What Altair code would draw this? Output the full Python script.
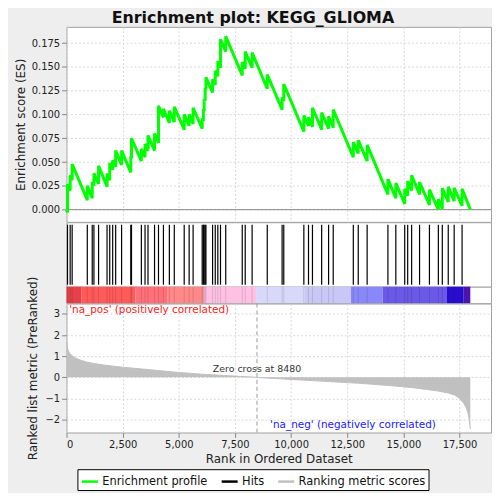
import altair as alt
import pandas as pd

N_GENES = 17978
X_MAX = 18900
ZERO_CROSS = 8480

hit_ranks = [44, 163, 251, 925, 1145, 1220, 1427, 1805, 1924, 2056, 2188, 2452, 2862, 2893,
             3333, 3496, 3628, 3919, 4095, 4315, 4579, 4799, 5240, 5460, 5636, 6041, 6094,
             6129, 6173, 6208, 6503, 6622, 6737, 6856, 7089, 7824, 7956, 8264, 8938, 9599,
             9673, 10567, 10774, 10950, 11360, 11668, 11875, 12769, 12989, 13385, 14310,
             14662, 15058, 15190, 15366, 15719, 16159, 16555, 16731, 16996, 17260, 17612]
es_before = [-0.003, 0.020, 0.031, 0.010, 0.012, 0.025, 0.027, 0.024, 0.031, 0.042, 0.045,
             0.047, 0.039, 0.054, 0.051, 0.055, 0.062, 0.062, 0.070, 0.097, 0.091, 0.092,
             0.084, 0.088, 0.090, 0.085, 0.093, 0.104, 0.114, 0.126, 0.123, 0.131, 0.140,
             0.149, 0.166, 0.141, 0.148, 0.149, 0.127, 0.105, 0.114, 0.082, 0.088, 0.087,
             0.084, 0.085, 0.086, 0.055, 0.059, 0.051, 0.016, 0.012, 0.006, 0.0146, 0.020,
             0.016, 0.005, 0.000, 0.001, 0.008, 0.009, 0.004]
es_after = [0.027, 0.036, 0.048, 0.025, 0.029, 0.038, 0.046, 0.038, 0.049, 0.052, 0.062,
            0.062, 0.056, 0.075, 0.064, 0.069, 0.078, 0.080, 0.109, 0.106, 0.104, 0.108,
            0.100, 0.100, 0.107, 0.096, 0.106, 0.116, 0.128, 0.139, 0.137, 0.146, 0.156,
            0.179, 0.182, 0.155, 0.166, 0.165, 0.142, 0.118, 0.132, 0.099, 0.097, 0.107,
            0.102, 0.098, 0.105, 0.071, 0.073, 0.068, 0.032, 0.028, 0.022, 0.030, 0.036,
            0.029, 0.021, 0.011, 0.0226, 0.024, 0.023, 0.022]

metric_ranks = [0, 30, 80, 150, 250, 400, 600, 900, 1200, 1600, 2000, 2500, 3000, 3500,
                4000, 4500, 5000, 5500, 6000, 6500, 7000, 7500, 8000, 8480, 9000, 9500,
                10000, 10500, 11000, 11500, 12000, 12500, 13000, 13500, 14000, 14500, 15000,
                15500, 16000, 16500, 17000, 17300, 17500, 17700, 17800, 17880, 17930, 17960,
                17978]
metric_values = [1.70, 1.45, 1.25, 1.12, 1.02, 0.92, 0.82, 0.72, 0.66, 0.59, 0.54, 0.48,
                 0.43, 0.38, 0.33, 0.28, 0.23, 0.19, 0.15, 0.12, 0.09, 0.06, 0.03, 0.0,
                 -0.04, -0.07, -0.10, -0.13, -0.16, -0.19, -0.22, -0.25, -0.28, -0.32, -0.36,
                 -0.40, -0.45, -0.50, -0.57, -0.64, -0.74, -0.85, -1.0, -1.25, -1.45, -1.7,
                 -2.0, -2.3, -2.45]

band_start = [0, 651, 3069, 4478, 6107, 8440, 10600, 12667, 14076, 16938, 17686]
band_end = [651, 3069, 4478, 6107, 8440, 10600, 12667, 14076, 16938, 17686, 17978]
band_colors = ["#e5414a", "#ff5a5a", "#ff707a", "#ff8888", "#ffc0e4", "#d8d8fa",
               "#c8c8f6", "#8888f8", "#6a58e6", "#2a0cd0", "#4e12b0"]

es_ticks = [0, 0.025, 0.05, 0.075, 0.1, 0.125, 0.15, 0.175]
metric_ticks = [-2, -1, 0, 1, 2, 3]
rank_ticks = [0, 2500, 5000, 7500, 10000, 12500, 15000, 17500]

SERIES = ["Enrichment profile", "Hits", "Ranking metric scores"]
FONT = "DejaVu Sans"
W = 428
GRID = "#d8d8d8"

# ---- data tables
es_pts = [(0, 0.0)]
for r, b, a in zip(hit_ranks, es_before, es_after):
    es_pts.append((r, b))
    es_pts.append((r, a))
es_pts.append((N_GENES, 0.0))
es_df = pd.DataFrame({"rank": [p[0] for p in es_pts], "es": [p[1] for p in es_pts],
                      "idx": list(range(len(es_pts))), "series": SERIES[0]})
hits_df = pd.DataFrame({"rank": hit_ranks, "series": SERIES[1]})
metric_df = pd.DataFrame({"rank": metric_ranks, "metric": metric_values, "series": SERIES[2]})
band_df = pd.DataFrame({"start": band_start, "end": band_end, "color": band_colors})
label_df = pd.DataFrame({
    "rank": [120, ZERO_CROSS, 12755],
    "metric": [3.2, 0.40, -2.25],
    "text": ["'na_pos' (positively correlated)", "Zero cross at " + str(ZERO_CROSS),
             "'na_neg' (negatively correlated)"],
})
zc_df = pd.DataFrame({"rank": [ZERO_CROSS]})
zero_df = pd.DataFrame({"es": [0.0]})

color_scale = alt.Scale(domain=SERIES, range=["#00ff00", "#000000", "#c0c0c0"])
legend = alt.Legend(title=None, orient="none", legendX=11, legendY=446,
                    direction="horizontal", symbolType="stroke", symbolStrokeWidth=2.5,
                    symbolSize=260, labelFont=FONT, labelFontSize=11.5, labelColor="#111",
                    strokeColor="black", fillColor="white", padding=3, columnPadding=8,
                    labelOffset=3)
xscale = alt.Scale(domain=[0, X_MAX], nice=False, zero=False)
es_scale = alt.Scale(domain=[-0.0128, 0.192], nice=False, zero=False)
m_scale = alt.Scale(domain=[-2.61, 3.49], nice=False, zero=False)

es_x_axis = alt.Axis(labels=False, ticks=False, domain=False, title=None, grid=True,
                     values=rank_ticks, gridColor=GRID, gridDash=[2, 2])
es_y_axis = alt.Axis(title="Enrichment score (ES)", values=es_ticks, format=".3f",
                     grid=True, gridColor=GRID, gridDash=[2, 2], tickSize=5,
                     labelPadding=2, titlePadding=4, labelOverlap=False)
m_x_axis = alt.Axis(title="Rank in Ordered Dataset", values=rank_ticks, format=",d",
                    grid=True, gridColor=GRID, gridDash=[2, 2], tickSize=5,
                    labelPadding=2, titlePadding=4, labelOverlap=False)
m_y_axis = alt.Axis(title="Ranked list metric (PreRanked)", values=metric_ticks, format="d",
                    grid=True, gridColor=GRID, gridDash=[2, 2], tickSize=5,
                    labelPadding=2, titlePadding=6, labelOverlap=False)

# ---- ES panel
es_line = alt.Chart(es_df).mark_line(strokeWidth=3, interpolate="linear").encode(
    x=alt.X("rank:Q", scale=xscale, axis=es_x_axis),
    y=alt.Y("es:Q", scale=es_scale, axis=es_y_axis),
    order="idx:Q",
    color=alt.Color("series:N", scale=color_scale, legend=legend),
)
es_zero = alt.Chart(zero_df).mark_rule(color="#888888", strokeWidth=1).encode(
    y=alt.Y("es:Q", scale=es_scale, axis=es_y_axis))
es_panel = alt.layer(es_zero, es_line).properties(width=W, height=196.6)

# ---- Hits panel
hits_panel = alt.Chart(hits_df).mark_rule(strokeWidth=1.2).encode(
    x=alt.X("rank:Q", scale=xscale, axis=None),
    y=alt.value(2.5), y2=alt.value(63),
    color=alt.Color("series:N", scale=color_scale, legend=legend),
).properties(width=W, height=65)

# ---- Color band panel
band_rect = alt.Chart(band_df).mark_rect().encode(
    x=alt.X("start:Q", scale=xscale, axis=None), x2="end:Q",
    fill=alt.Fill("color:N", scale=None),
)
band_hits = alt.Chart(hits_df).mark_rule(color="#000000", opacity=0.12, strokeWidth=1).encode(
    x=alt.X("rank:Q", scale=xscale, axis=None))
band_panel = alt.layer(band_rect, band_hits).properties(width=W, height=16.7)

# ---- Metric panel
mx = alt.X("rank:Q", scale=xscale, axis=m_x_axis)
my = alt.Y("metric:Q", scale=m_scale, axis=m_y_axis)
m_area = alt.Chart(metric_df).mark_area(color="#c0c0c0", interpolate="linear").encode(
    x=mx, y=my, y2=alt.datum(0))
m_line = alt.Chart(metric_df).mark_line(strokeWidth=1).encode(
    x=mx, y=my, color=alt.Color("series:N", scale=color_scale, legend=legend))
m_zero = alt.Chart(zc_df).mark_rule(color="#999999", strokeDash=[4, 3], strokeWidth=1).encode(x=mx)
m_text_pos = alt.Chart(label_df.iloc[[0]]).mark_text(
    align="left", baseline="middle", font=FONT, fontSize=10.5, color="#ff2020"
).encode(x=mx, y=my, text="text:N")
m_text_zero = alt.Chart(label_df.iloc[[1]]).mark_text(
    align="center", baseline="middle", font=FONT, fontSize=9.5, color="#333333"
).encode(x=mx, y=my, text="text:N")
m_text_neg = alt.Chart(label_df.iloc[[2]]).mark_text(
    align="center", baseline="middle", font=FONT, fontSize=10.5, color="#2020ff"
).encode(x=mx, y=my, text="text:N")
metric_panel = alt.layer(m_area, m_line, m_zero, m_text_pos, m_text_zero,
                         m_text_neg).properties(width=W, height=130)

chart = alt.vconcat(es_panel, hits_panel, band_panel, metric_panel, spacing=0,
                    bounds="flush").resolve_scale(
    color="shared"
).properties(
    title=alt.TitleParams("Enrichment plot: KEGG_GLIOMA", font=FONT, fontSize=16,
                          fontWeight="bold", anchor="middle", color="#111111", offset=0),
    background="#eeeeee",
    padding={"left": 5, "top": 0, "right": 0, "bottom": 0},
).configure_view(stroke="#a0a0a0", fill="white").configure_axis(
    labelFont=FONT, titleFont=FONT, labelFontSize=10, titleFontSize=12,
    titleFontWeight="normal", labelColor="#222222", titleColor="#222222",
    tickColor="#888888", domain=False,
)

chart.save("out.html", embed_options={"renderer": "svg", "actions": False})
